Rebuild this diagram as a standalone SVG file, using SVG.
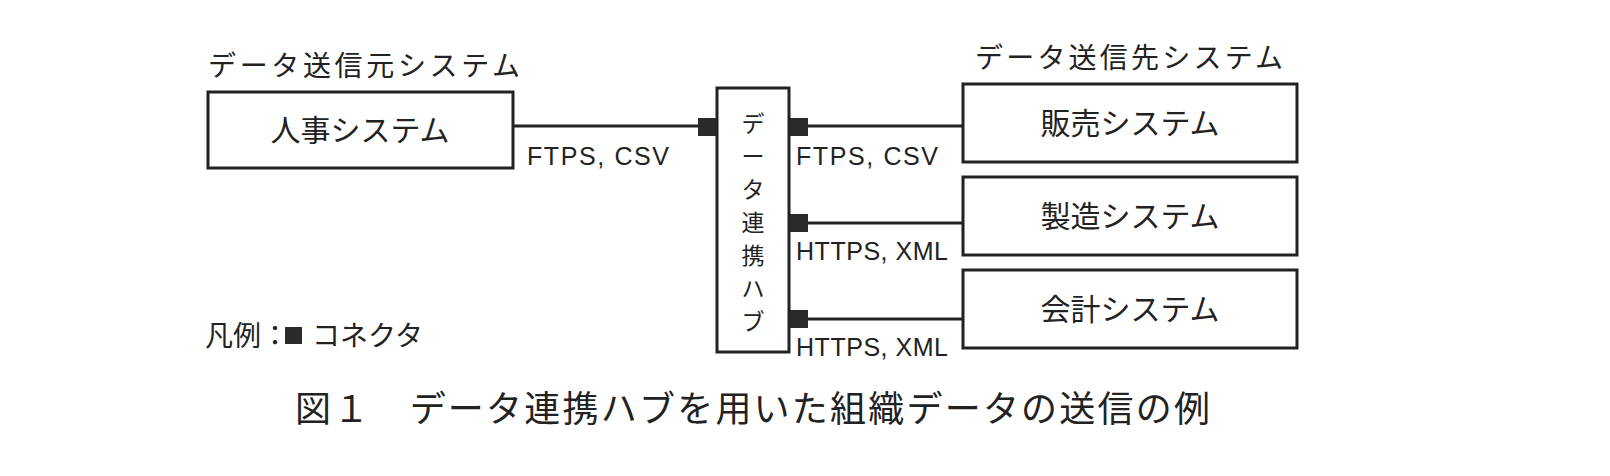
<svg xmlns="http://www.w3.org/2000/svg" width="1610" height="476" viewBox="0 0 1610 476">
<style>
text{font-family:"Noto Sans CJK JP","Liberation Sans",sans-serif;fill:#222}
.b{fill:#fff;stroke:#222;stroke-width:3}
.t{font-size:30px;text-anchor:middle}
.v{font-size:23px;text-anchor:middle}
.h{font-size:28px}
.m{font-family:"Liberation Sans","Noto Sans CJK JP",sans-serif;font-size:25px}
.c{fill:#2a2a2a}
line{stroke:#222;stroke-width:3}
</style>
<rect width="1610" height="476" fill="#fff"/>
<text class="h" x="208" y="76" textLength="312">データ送信元システム</text>
<text class="h" x="975" y="68" textLength="308">データ送信先システム</text>
<g id="conn">
<line x1="513" y1="126" x2="700" y2="126"/>
<line x1="789" y1="126" x2="963" y2="126"/>
<line x1="789" y1="223" x2="963" y2="223"/>
<line x1="789" y1="319" x2="963" y2="319"/>
<rect class="c" x="698" y="118" width="19" height="18"/>
<rect class="c" x="789" y="118" width="19" height="18"/>
<rect class="c" x="789" y="214" width="19" height="18"/>
<rect class="c" x="789" y="310" width="19" height="18"/>
<text class="m" x="527" y="165" textLength="142">FTPS, CSV</text>
<text class="m" x="796" y="165" textLength="142">FTPS, CSV</text>
<text class="m" x="796" y="260" textLength="152">HTTPS, XML</text>
<text class="m" x="796" y="356" textLength="152">HTTPS, XML</text>
</g>
<g id="hr"><rect class="b" x="208" y="92" width="305" height="76"/><text class="t" x="360" y="141">人事システム</text></g>
<g id="hub"><rect class="b" x="717" y="88" width="72" height="264"/>
<text class="v" x="753" y="132">デ</text><text class="v" x="753" y="165">ー</text><text class="v" x="753" y="198">タ</text><text class="v" x="753" y="231">連</text><text class="v" x="753" y="264">携</text><text class="v" x="753" y="297">ハ</text><text class="v" x="753" y="330">ブ</text></g>
<g id="sales"><rect class="b" x="963" y="84" width="334" height="78"/><text class="t" x="1130" y="134">販売システム</text></g>
<g id="mfg"><rect class="b" x="963" y="177" width="334" height="78"/><text class="t" x="1130" y="227">製造システム</text></g>
<g id="acc"><rect class="b" x="963" y="270" width="334" height="78"/><text class="t" x="1130" y="320">会計システム</text></g>
<g id="legend"><text class="h" x="205" y="346">凡例：</text><rect class="c" x="285" y="327" width="17" height="17"/><text class="h" x="312" y="346">コネクタ</text></g>
<text x="295" y="422" style="font-size:36px" textLength="915">図１　データ連携ハブを用いた組織データの送信の例</text>
</svg>
